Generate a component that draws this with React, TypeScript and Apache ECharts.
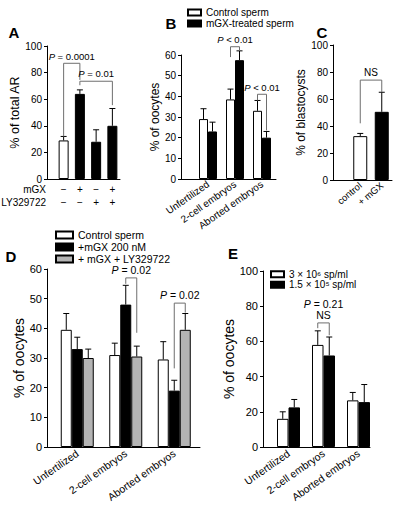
import React, { useEffect, useRef } from 'react';
import * as echarts from 'echarts';

const FONT = "'Liberation Sans', Arial, Helvetica, sans-serif";
const BLACK = '#000000';
const WHITE = '#ffffff';
const GREY_BAR = '#b4b4b4';
const BRACKET = '#6e6e6e';

// ---------- Panel A ----------
const aMgx = ['−', '+', '−', '+'];
const aLy = ['−', '−', '+', '+'];
const aRowTitles = ['mGX', 'LY329722'];
const aValues = [29, 64, 28, 40];
const aErrTop = [32, 67, 37, 53];
const aColors = [WHITE, BLACK, BLACK, BLACK];

// ---------- Panel B ----------
const bCategories = ['Unfertilized', '2-cell embryos', 'Aborted embryos'];
const bSeriesNames = ['Control sperm', 'mGX-treated sperm'];
const bControl = [29, 38.5, 33];
const bControlErr = [34, 43.5, 38];
const bTreated = [23, 57.5, 20];
const bTreatedErr = [27.5, 62, 23];

// ---------- Panel C ----------
const cCategories = ['control', '+ mGX'];
const cValues = [32.5, 50.5];
const cErrTop = [34.5, 65];
const cColors = [WHITE, BLACK];

// ---------- Panel D ----------
const dCategories = ['Unfertilized', '2-cell embryos', 'Aborted embryos'];
const dSeriesNames = ['Control sperm', '+mGX 200 nM', '+ mGX + LY329722'];
const dControl = [39.5, 31, 29.5];
const dControlErr = [45, 35, 35.5];
const dMgx = [33, 48, 19];
const dMgxErr = [37, 54.5, 22.5];
const dMgxLy = [30, 30.5, 39.5];
const dMgxLyErr = [33, 34, 45];

// ---------- Panel E ----------
const eCategories = ['Unfertilized', '2-cell embryos', 'Aborted embryos'];
const eSeriesNames = ['3 × 10⁶ sp/ml', '1.5 × 10⁵ sp/ml'];
const eHigh = [16, 58, 26.5];
const eHighErr = [20, 66, 31];
const eLow = [22.5, 52, 25.5];
const eLowErr = [27, 62.5, 35.5];

// significance brackets: a/b = [category, series], leg bottoms and top in data units
type Bracket = { a: [number, number]; b: [number, number]; yA: number; yTop: number; yB: number; text: string };
const bracketsA: Bracket[] = [
  { a: [0, 0], b: [1, 0], yA: 32, yTop: 87, yB: 74.5, text: '{i|P} = 0.0001' },
  { a: [1, 0], b: [3, 0], yA: 70.5, yTop: 73.5, yB: 55.5, text: '{i|P} = 0.01' },
];
const bracketsB: Bracket[] = [
  { a: [1, 0], b: [1, 1], yA: 59, yTop: 64, yB: 62, text: '{i|P} < 0.01' },
  { a: [2, 0], b: [2, 1], yA: 38, yTop: 41, yB: 23.5, text: '{i|P} < 0.01' },
];
const bracketsC: Bracket[] = [
  { a: [0, 0], b: [1, 0], yA: 42, yTop: 74, yB: 65, text: 'NS' },
];
const bracketsD: Bracket[] = [
  { a: [1, 1], b: [1, 2], yA: 55, yTop: 57, yB: 38.5, text: '{i|P} = 0.02' },
  { a: [2, 1], b: [2, 2], yA: 26.5, yTop: 48.5, yB: 45.3, text: '{i|P} = 0.02' },
];
const bracketsE: Bracket[] = [
  { a: [1, 0], b: [1, 1], yA: 67.5, yTop: 70.5, yB: 63.5, text: '{i|P} = 0.21\nNS' },
];

function buildOption() {
  const grid: any[] = [];
  const xAxis: any[] = [];
  const yAxis: any[] = [];
  const series: any[] = [];

  function panel(p: any) {
    const gi = grid.length;
    grid.push({ left: p.left, top: p.top, width: p.width, height: p.height });
    grid.push({ left: p.dataLeft, top: p.top, width: p.dataWidth, height: p.height });
    xAxis.push({
      gridIndex: gi, type: 'value', min: 0, max: 1,
      axisLine: { show: true, lineStyle: { color: BLACK, width: 1 } },
      axisTick: { show: false }, axisLabel: { show: false }, splitLine: { show: false },
    });
    xAxis.push({
      gridIndex: gi + 1, type: 'category', data: p.categories,
      axisLine: { show: false }, axisTick: { show: false }, splitLine: { show: false },
      axisLabel: {
        interval: 0, rotate: p.rotate, fontSize: p.labelSize, fontFamily: FONT, color: BLACK,
        margin: p.labelMargin, lineHeight: p.labelLineHeight,
      },
    });
    yAxis.push({
      gridIndex: gi, type: 'value', min: 0, max: p.yMax, interval: p.yInterval,
      axisLine: { show: true, lineStyle: { color: BLACK, width: 1 } },
      axisTick: { show: true, length: 3, lineStyle: { color: BLACK } },
      axisLabel: { fontSize: p.tickSize, fontFamily: FONT, color: BLACK, margin: 5 },
      splitLine: { show: false },
      name: p.yName, nameLocation: 'middle', nameGap: p.nameGap,
      nameTextStyle: { fontSize: p.nameSize, fontFamily: FONT, color: BLACK },
    });
    yAxis.push({ gridIndex: gi + 1, type: 'value', min: 0, max: p.yMax, show: false });
    return gi + 1;
  }

  function bars(ax: number, name: string, data: any[], color: string, bw: number) {
    series.push({
      type: 'bar', name, xAxisIndex: ax, yAxisIndex: ax, data, barWidth: bw, barGap: '0%',
      itemStyle: { color, borderColor: BLACK, borderWidth: 1 }, silent: true, z: 2,
    });
  }

  function errors(ax: number, n: number, bw: number, rows: number[][]) {
    series.push({
      type: 'custom', xAxisIndex: ax, yAxisIndex: ax, data: rows, silent: true, z: 3,
      encode: { x: 0, y: 3 },
      renderItem: (_params: any, api: any) => {
        const cat = api.value(0);
        const s = api.value(1);
        const base = api.coord([cat, api.value(2)]);
        const top = api.coord([cat, api.value(3)]);
        const x = base[0] + (s - (n - 1) / 2) * bw;
        return {
          type: 'group',
          children: [
            { type: 'line', shape: { x1: x, y1: base[1], x2: x, y2: top[1] }, style: { stroke: BLACK, lineWidth: 1 } },
            { type: 'line', shape: { x1: x - 3, y1: top[1], x2: x + 3, y2: top[1] }, style: { stroke: BLACK, lineWidth: 1 } },
          ],
        };
      },
    });
  }

  function brackets(ax: number, n: number, bw: number, list: Bracket[], fs: number) {
    series.push({
      type: 'custom', xAxisIndex: ax, yAxisIndex: ax, silent: true, z: 4,
      data: list.map((b) => [b.a[0], b.yTop]),
      renderItem: (params: any, api: any) => {
        const br = list[params.dataIndex];
        const pa = api.coord([br.a[0], br.yA]);
        const pb = api.coord([br.b[0], br.yB]);
        const pt = api.coord([br.a[0], br.yTop]);
        const xa = pa[0] + (br.a[1] - (n - 1) / 2) * bw;
        const xb = pb[0] + (br.b[1] - (n - 1) / 2) * bw;
        return {
          type: 'group',
          children: [
            {
              type: 'polyline',
              shape: { points: [[xa, pa[1]], [xa, pt[1]], [xb, pt[1]], [xb, pb[1]]] },
              style: { stroke: BRACKET, lineWidth: 1, fill: 'none' },
            },
            {
              type: 'text', x: (xa + xb) / 2, y: pt[1] - 2,
              style: {
                text: br.text, fill: BLACK, fontSize: fs, fontFamily: FONT,
                align: 'center', verticalAlign: 'bottom', lineHeight: fs + 1,
                rich: { i: { fontStyle: 'italic', fontSize: fs, fontFamily: FONT, fill: BLACK } },
              },
            },
          ],
        };
      },
    });
  }

  // Panel A
  const axA = panel({
    left: 47, top: 46, width: 73, height: 133, dataLeft: 55.5, dataWidth: 65,
    yMax: 100, yInterval: 20, yName: '% of total AR', nameGap: 13, tickSize: 10, nameSize: 12.5,
    categories: aMgx.map((m, i) => m + '\n' + aLy[i]), rotate: 0, labelSize: 10, labelMargin: 4, labelLineHeight: 13,
  });
  bars(axA, 'A', aValues.map((v, i) => ({ value: v, itemStyle: { color: aColors[i] } })), BLACK, 10);
  errors(axA, 1, 10, aValues.map((v, i) => [i, 0, v, aErrTop[i]]));
  brackets(axA, 1, 10, bracketsA, 9.5);

  // Panel B
  const axB = panel({
    left: 181, top: 55, width: 95, height: 124, dataLeft: 194.5, dataWidth: 81,
    yMax: 60, yInterval: 10, yName: '% of oocytes', nameGap: 20, tickSize: 10, nameSize: 12,
    categories: bCategories, rotate: 35, labelSize: 10, labelMargin: 4,
  });
  bars(axB, bSeriesNames[0], bControl, WHITE, 9);
  bars(axB, bSeriesNames[1], bTreated, BLACK, 9);
  errors(axB, 2, 9, [
    ...bControl.map((v, i) => [i, 0, v, bControlErr[i]]),
    ...bTreated.map((v, i) => [i, 1, v, bTreatedErr[i]]),
  ]);
  brackets(axB, 2, 9, bracketsB, 9.5);

  // Panel C
  const axC = panel({
    left: 333, top: 45, width: 59, height: 135, dataLeft: 349.5, dataWidth: 43,
    yMax: 100, yInterval: 20, yName: '% of blastocysts', nameGap: 19, tickSize: 10, nameSize: 12,
    categories: cCategories, rotate: 40, labelSize: 9.5, labelMargin: 4,
  });
  bars(axC, 'C', cValues.map((v, i) => ({ value: v, itemStyle: { color: cColors[i] } })), BLACK, 14);
  errors(axC, 1, 14, cValues.map((v, i) => [i, 0, v, cErrTop[i]]));
  brackets(axC, 1, 14, bracketsC, 10);

  // Panel D
  const axD = panel({
    left: 47, top: 269, width: 153, height: 178, dataLeft: 53, dataWidth: 145.5,
    yMax: 60, yInterval: 10, yName: '% of oocytes', nameGap: 20, tickSize: 11, nameSize: 14,
    categories: dCategories, rotate: 35, labelSize: 10.5, labelMargin: 5,
  });
  bars(axD, dSeriesNames[0], dControl, WHITE, 11);
  bars(axD, dSeriesNames[1], dMgx, BLACK, 11);
  bars(axD, dSeriesNames[2], dMgxLy, GREY_BAR, 11);
  errors(axD, 3, 11, [
    ...dControl.map((v, i) => [i, 0, v, dControlErr[i]]),
    ...dMgx.map((v, i) => [i, 1, v, dMgxErr[i]]),
    ...dMgxLy.map((v, i) => [i, 2, v, dMgxLyErr[i]]),
  ]);
  brackets(axD, 3, 11, bracketsD, 10.5);

  // Panel E
  const axE = panel({
    left: 263, top: 271, width: 107, height: 176, dataLeft: 271, dataWidth: 105,
    yMax: 100, yInterval: 20, yName: '% of oocytes', nameGap: 21, tickSize: 11, nameSize: 14,
    categories: eCategories, rotate: 35, labelSize: 10.5, labelMargin: 5,
  });
  bars(axE, eSeriesNames[0], eHigh, WHITE, 11.5);
  bars(axE, eSeriesNames[1], eLow, BLACK, 11.5);
  errors(axE, 2, 11.5, [
    ...eHigh.map((v, i) => [i, 0, v, eHighErr[i]]),
    ...eLow.map((v, i) => [i, 1, v, eLowErr[i]]),
  ]);
  brackets(axE, 2, 11.5, bracketsE, 10.5);

  const legendBase = {
    orient: 'vertical', padding: 0, icon: 'rect', selectedMode: false,
  };
  const legend = [
    { ...legendBase, data: bSeriesNames, left: 187, top: 7, itemGap: 0, itemWidth: 13, itemHeight: 6,
      textStyle: { fontSize: 10, fontFamily: FONT, color: BLACK, lineHeight: 11 } },
    { ...legendBase, data: dSeriesNames, left: 55, top: 229, itemGap: 0, itemWidth: 17, itemHeight: 7,
      textStyle: { fontSize: 10.5, fontFamily: FONT, color: BLACK, lineHeight: 12 } },
    { ...legendBase, data: eSeriesNames, left: 270, top: 269, itemGap: 0, itemWidth: 13, itemHeight: 6,
      textStyle: { fontSize: 10, fontFamily: FONT, color: BLACK, lineHeight: 10.5 } },
  ];

  const letter = (t: string, x: number, y: number) => ({
    type: 'text', x, y,
    style: { text: t, fontSize: 15, fontWeight: 'bold', fontFamily: FONT, fill: BLACK, align: 'center', verticalAlign: 'middle' },
  });
  const graphic = [
    letter('A', 14, 32),
    letter('B', 171, 23),
    letter('C', 322, 32),
    letter('D', 11, 256),
    letter('E', 233, 253),
    ...aRowTitles.map((t, i) => ({
      type: 'text', x: 46, y: 189 + i * 13,
      style: { text: t, fontSize: 10, fontFamily: FONT, fill: BLACK, align: 'right', verticalAlign: 'middle' },
    })),
  ];

  return {
    animation: false,
    backgroundColor: WHITE,
    grid, xAxis, yAxis, series, legend, graphic,
  };
}

export default function App() {
  const ref = useRef<HTMLDivElement>(null);
  useEffect(() => {
    document.body.style.margin = '0';
    const chart = echarts.init(ref.current as HTMLDivElement, undefined, { renderer: 'svg', width: 405, height: 506 });
    chart.setOption(buildOption() as any);
    return () => chart.dispose();
  }, []);
  return <div ref={ref} style={{ position: 'fixed', left: 0, top: 0, width: 405, height: 506, background: '#fff' }} />;
}
